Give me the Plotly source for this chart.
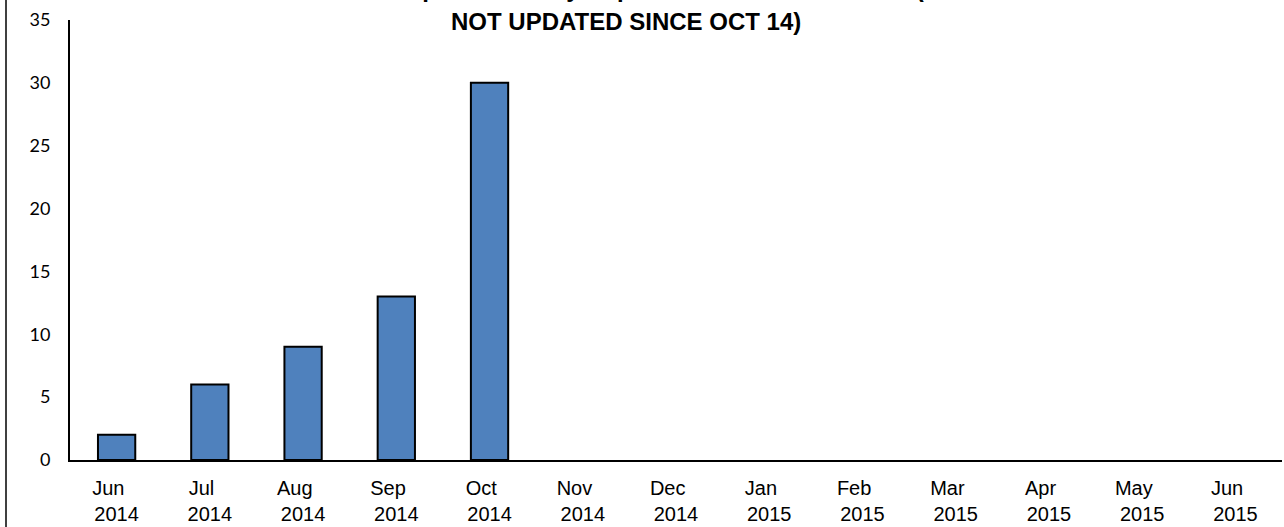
import plotly.graph_objects as go

months = ["Jun", "Jul", "Aug", "Sep", "Oct", "Nov", "Dec", "Jan", "Feb", "Mar", "Apr", "May", "Jun"]
years = ["2014", "2014", "2014", "2014", "2014", "2014", "2014", "2015", "2015", "2015", "2015", "2015", "2015"]
values = [2, 6, 9, 13, 30, None, None, None, None, None, None, None, None]
y_ticks = [0, 5, 10, 15, 20, 25, 30, 35]

title_line1 = "Graph of Monthly Reported Ebola Cases in US ("
title_line2 = "NOT UPDATED SINCE OCT 14)"

cats = [f"{m} {y}" for m, y in zip(months, years)]
ticktext = [f"{m}\u00a0\u00a0\u00a0<br>{y}" for m, y in zip(months, years)]

fig = go.Figure()
fig.add_trace(go.Bar(
    x=cats, y=values, width=0.4,
    marker=dict(color="#4F81BD", line=dict(color="black", width=2)),
))

W, H = 1284, 527
ml, mr, mt, mb = 70, 2, 20, 67
pw = W - ml - mr
ph = H - mt - mb

fig.update_layout(
    width=W, height=H,
    margin=dict(l=ml, r=mr, t=mt, b=mb, pad=0),
    paper_bgcolor="white", plot_bgcolor="white",
    showlegend=False,
    font=dict(family="Liberation Sans, Arial", color="black"),
    xaxis=dict(
        type="category", categoryorder="array", categoryarray=cats,
        tickmode="array", tickvals=cats, ticktext=ticktext,
        tickfont=dict(size=20, family="Liberation Sans, Arial", color="black"),
        showline=True, linecolor="black", linewidth=2,
        showgrid=False, ticks="", ticklen=0, zeroline=False,
        ticklabelstandoff=9,
        range=[-0.5, len(cats) - 0.5],
    ),
    yaxis=dict(
        range=[0, 35], tickmode="array", tickvals=y_ticks,
        tickfont=dict(size=18, family="Lato", color="black"),
        showline=True, linecolor="black", linewidth=2,
        showgrid=False, ticks="", zeroline=False,
        ticklabelstandoff=14,
    ),
    shapes=[dict(
        type="line", xref="paper", yref="paper",
        x0=(6 - ml) / pw, x1=(6 - ml) / pw, y0=-0.3, y1=1.3,
        line=dict(color="black", width=1.5),
    )],
    annotations=[
        dict(text=f"<b>{title_line1}</b>", xref="paper", yref="paper",
             x=(652 - ml) / pw, y=1, xanchor="center", yanchor="top", yshift=47,
             showarrow=False, font=dict(size=24, color="black")),
        dict(text=f"<b>{title_line2}</b>", xref="paper", yref="paper",
             x=(625.5 - ml) / pw, y=1, xanchor="center", yanchor="top", yshift=14,
             showarrow=False, font=dict(size=24, color="black")),
    ],
)

fig.write_html(
    "out.html",
    config={"displayModeBar": False},
    post_script="document.body.style.margin='0';document.body.style.overflow='hidden';",
)
